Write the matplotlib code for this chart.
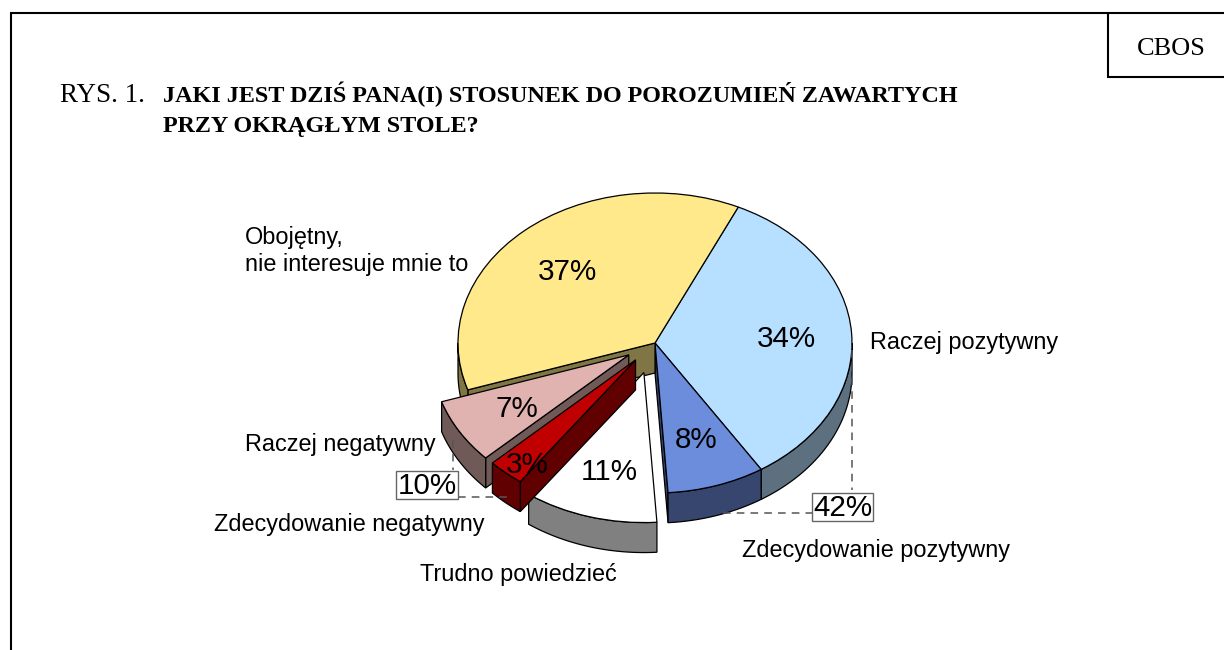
import numpy as np
import matplotlib
matplotlib.use("Agg")
import matplotlib.pyplot as plt
from matplotlib.colors import to_rgb
from matplotlib.patches import Polygon, Rectangle

labels = ["Raczej pozytywny", "Zdecydowanie pozytywny", "Trudno powiedzieć",
          "Zdecydowanie negatywny", "Raczej negatywny", "Obojętny,\nnie interesuje mnie to"]
values = [34, 8, 11, 3, 7, 37]
explode = [0, 0, 0.205, 0.15, 0.155, 0]
colors = ["#B7DFFF", "#6C8CDC", "#FFFFFF", "#C00000", "#E0B3B0", "#FFE98A"]
paint_order = [0, 1, 3, 5, 4, 2]
pct_xy = [(786, 339), (696, 440), (609, 472), (527, 465), (517, 409), (567, 272)]
label_xy = [(870, 343), (742, 551), (420, 575), (214, 524), (245, 444), (245, 251)]
positive_total = values[0] + values[1]
negative_total = values[3] + values[4]

W, H = 1224, 650
CX, CY, RX, RY, DEPTH = 655, 343, 197, 150, 0.2
SANS = "Liberation Sans"
SERIF = "Liberation Serif"

fig = plt.figure(figsize=(W / 100, H / 100), dpi=100, facecolor="white")

ax = fig.add_axes([0, 0, 1, 1])
wedges, _ = ax.pie(values, explode=explode, startangle=65, counterclock=False, colors=colors,
                   wedgeprops=dict(edgecolor="black", linewidth=0.9))
ax.set_aspect("auto")
ax.set_xlim(-CX / RX, (W - CX) / RX)
ax.set_ylim((CY - H) / RY, CY / RY)
ax.axis("off")


def shade(color):
    return tuple(0.5 * c for c in to_rgb(color))


for w, col, z in zip(wedges, colors, paint_order):
    w.set_zorder(2 * z + 1)
    cx, cy = w.center
    side = shade(col)
    # Radial cut faces that turn towards the viewer (front half only)
    for a, sign in ((w.theta1, 1), (w.theta2, -1)):
        r = np.radians(a)
        if sign * np.cos(r) > 0.001 and np.sin(r) < 0:
            ex, ey = cx + np.cos(r), cy + np.sin(r)
            ax.add_patch(Polygon([(cx, cy), (ex, ey), (ex, ey - DEPTH), (cx, cy - DEPTH)], closed=True,
                                 facecolor=side, edgecolor="black", linewidth=0.9, zorder=2 * z))
    # Front rim
    lo, hi = max(w.theta1, -180), min(w.theta2, 0)
    if hi > lo:
        t = np.radians(np.linspace(lo, hi, 80))
        xs, ys = cx + np.cos(t), cy + np.sin(t)
        pts = np.r_[np.c_[xs, ys], np.c_[xs, ys - DEPTH][::-1]]
        ax.add_patch(Polygon(pts, closed=True, facecolor=side, edgecolor="black",
                             linewidth=0.9, zorder=2 * z))

# Overlay in pixel coordinates for the page furniture and all text
ov = fig.add_axes([0, 0, 1, 1], facecolor="none")
ov.set_xlim(0, W)
ov.set_ylim(H, 0)
ov.axis("off")

ov.plot([11, 11, W], [H, 13, 13], color="black", lw=1.5, solid_joinstyle="miter", solid_capstyle="butt")
ov.plot([1108, 1108, W], [13, 77, 77], color="black", lw=1.5, solid_joinstyle="miter", solid_capstyle="butt")
ov.text(1171, 55, "CBOS", family=SERIF, fontsize=19, ha="center", va="baseline")
ov.text(60, 102, "RYS. 1.", family=SERIF, fontsize=19.5, ha="left", va="baseline")
ov.text(163, 102, "JAKI JEST DZIŚ PANA(I) STOSUNEK DO POROZUMIEŃ ZAWARTYCH", family=SERIF,
        fontsize=17.35, weight="bold", ha="left", va="baseline")
ov.text(163, 132, "PRZY OKRĄGŁYM STOLE?", family=SERIF, fontsize=17.35, weight="bold", ha="left", va="baseline")

for v, (x, y) in zip(values, pct_xy):
    ov.text(x, y, f"{v}%", family=SANS, fontsize=21.3, ha="center", va="center", zorder=20)
for lab, (x, y) in zip(labels, label_xy):
    ov.text(x, y, lab, family=SANS, fontsize=16.9, ha="left", va="center", linespacing=1.22, zorder=20)

dash = dict(color="#555555", lw=1.1, dashes=(5, 4), zorder=15)
ov.plot([852, 852], [350, 490], **dash)
ov.plot([723, 812], [513, 513], **dash)
ov.plot([453, 453], [440, 470], **dash)
ov.plot([458, 510], [497, 497], **dash)

for (x0, y0, x1, y1, v) in ((812, 493, 873, 521, positive_total), (396, 471, 458, 499, negative_total)):
    ov.add_patch(Rectangle((x0, y0), x1 - x0, y1 - y0, facecolor="white", edgecolor="#666666", lw=1, zorder=16))
    ov.text((x0 + x1) / 2, (y0 + y1) / 2 + 1, f"{v}%", family=SANS, fontsize=21.3, ha="center", va="center", zorder=17)

fig.savefig("out.png", dpi=100)
